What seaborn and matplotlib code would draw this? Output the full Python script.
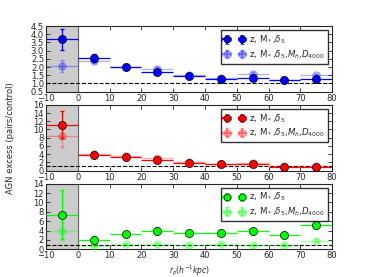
import numpy as np
import pandas as pd
import matplotlib
matplotlib.use("Agg")
import matplotlib.pyplot as plt
import seaborn as sns

sns.set_style("ticks")
plt.rcParams['font.family'] = ['DejaVu Sans']
plt.rc('font', size=6)
plt.rcParams.update({'mathtext.default': 'it',
                     'xtick.direction': 'in', 'ytick.direction': 'in',
                     'xtick.top': True, 'ytick.right': True,
                     'xtick.major.size': 3, 'ytick.major.size': 3})

# bin centres (kpc/h); the -5 bin is the shaded "merger" bin
rp = [-5, 5, 15, 25, 35, 45, 55, 65, 75]
rp_err = [5] * 9

# matched on z, M*, delta5
blue_y = [3.70, 2.55, 1.98, 1.68, 1.45, 1.30, 1.34, 1.20, 1.26]
blue_e = [0.65, 0.25, 0.10, 0.12, 0.08, 0.08, 0.08, 0.07, 0.08]
red_y = [11.2, 3.7, 3.4, 2.6, 1.8, 1.65, 1.5, 0.9, 0.9]
red_e = [3.2, 0.6, 0.4, 0.4, 0.3, 0.3, 0.3, 0.2, 0.2]
green_y = [7.4, 2.0, 3.2, 4.0, 3.4, 3.4, 3.8, 3.1, 5.1]
green_e = [5.3, 0.8, 0.6, 0.8, 0.5, 0.5, 0.6, 0.5, 0.8]

# additionally matched on Mh, D4000
lblue_y = [2.08, 2.38, 1.98, 1.88, 1.50, 1.33, 1.60, 1.20, 1.50]
lblue_e = [0.35, 0.15, 0.08, 0.10, 0.07, 0.07, 0.08, 0.07, 0.08]
lred_y = [8.4, 4.1, 3.5, 3.0, 2.0, 1.7, 1.8, 1.0, 1.0]
lred_e = [2.7, 0.6, 0.4, 0.4, 0.3, 0.3, 0.3, 0.2, 0.2]
lgreen_y = [3.9, 0.8, 1.1, 1.1, 1.0, 1.1, 1.0, 1.0, 1.8]
lgreen_e = [1.9, 0.3, 0.2, 0.2, 0.2, 0.2, 0.2, 0.2, 0.3]

panels = [
    ("blue", blue_y, blue_e, lblue_y, lblue_e, (0.5, 4.5), np.arange(0.5, 4.6, 0.5)),
    ("red", red_y, red_e, lred_y, lred_e, (0, 16), np.arange(0, 17, 2)),
    ("lime", green_y, green_e, lgreen_y, lgreen_e, (0, 14), np.arange(0, 15, 2)),
]

lab1 = r"z, M$_*$,$\delta_5$"
lab2 = r"z, M$_*$,$\delta_5$,$M_h$,$D_{4000}$"

fig, axes = plt.subplots(3, 1, figsize=(3.69, 2.77), dpi=100)
fig.subplots_adjust(left=0.125, right=0.9, top=0.906, bottom=0.1, hspace=0.2)

for ax, (col, y1, e1, y2, e2, ylim, yt) in zip(axes, panels):
    ax.axvspan(-10, 0, color="0.8", zorder=0)
    ax.axvline(0, color="0.4", lw=0.8, zorder=1)
    ax.axhline(1.0, color="black", ls="--", lw=0.8, zorder=1)

    df1 = pd.DataFrame({"rp": rp, "y": y1})
    df2 = pd.DataFrame({"rp": rp, "y": y2})

    # light (more matched) sample
    ax.errorbar(rp, y2, xerr=rp_err, fmt='none', ecolor=col,
                alpha=0.3, elinewidth=1.0, zorder=2)
    ax.errorbar(rp, y2, yerr=e2, fmt='none', ecolor=col,
                alpha=0.3, elinewidth=1.0, capsize=1.5, zorder=2)
    sns.scatterplot(data=df2, x="rp", y="y", ax=ax, color=col, alpha=0.3,
                    s=30, edgecolor=col, linewidth=0.5, legend=False, zorder=3)
    # dark sample
    ax.errorbar(rp, y1, xerr=rp_err, fmt='none', ecolor=col,
                elinewidth=0.9, zorder=4)
    ax.errorbar(rp, y1, yerr=e1, fmt='none', ecolor=col,
                elinewidth=0.9, capsize=1.5, zorder=4)
    sns.scatterplot(data=df1, x="rp", y="y", ax=ax, color=col,
                    s=34, edgecolor="black", linewidth=0.5, legend=False, zorder=5)

    # legend proxies
    h1 = ax.errorbar([np.nan], [np.nan], xerr=[1], yerr=[1], fmt='o', color=col,
                     mec="black", mew=0.5, ms=5, capsize=1.5, label=lab1)
    h2 = ax.errorbar([np.nan], [np.nan], xerr=[1], yerr=[1], fmt='o', color=col,
                     mec=col, ms=5, capsize=1.5, alpha=0.3, label=lab2)
    ax.legend(handles=[h1, h2], loc="upper right", numpoints=2, fontsize=6.2,
              frameon=True, fancybox=False, edgecolor="black",
              handlelength=2.4, borderpad=0.35, labelspacing=0.25,
              handletextpad=0.5, borderaxespad=0.5)

    ax.set_xlim(-10, 80)
    ax.set_xticks(np.arange(-10, 81, 10))
    ax.set_ylim(*ylim)
    ax.set_yticks(yt)
    ax.set_xlabel("")
    ax.set_ylabel("")
    ax.tick_params(labelsize=6, pad=1.5, width=0.6)
    for s in ax.spines.values():
        s.set_linewidth(0.8)

axes[2].set_xlabel(r"$r_p (h^{-1} kpc)$", fontsize=5.5, labelpad=2)
fig.text(0.028, 0.5, "AGN excess (pairs/control)", rotation=90,
         va="center", ha="center", fontsize=6)

fig.savefig("out.png", dpi=100)
